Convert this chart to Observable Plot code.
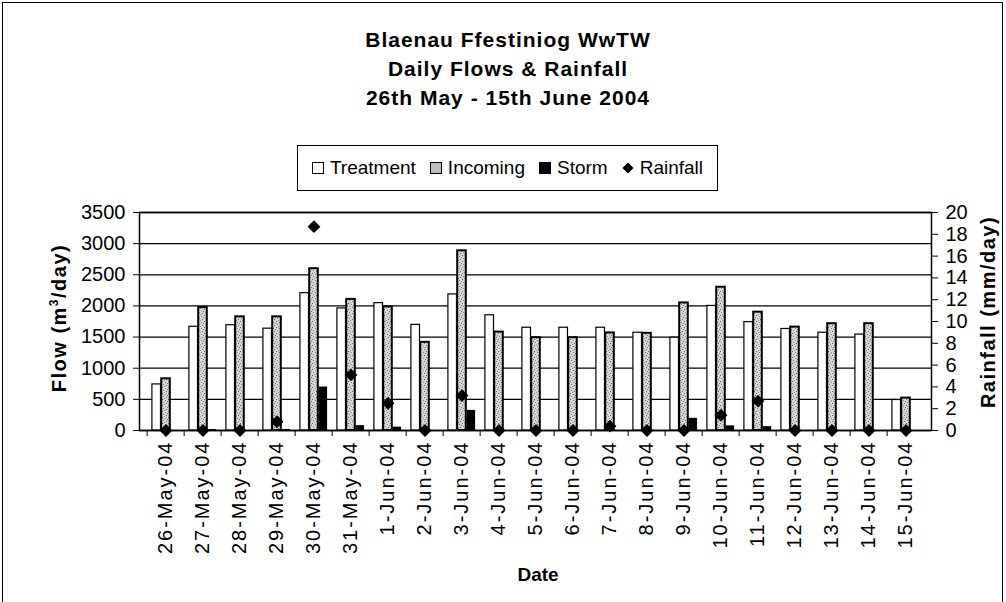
<!DOCTYPE html>
<html><head><meta charset="utf-8">
<script src="https://cdn.jsdelivr.net/npm/d3@7"></script>
<script src="https://cdn.jsdelivr.net/npm/@observablehq/plot@0.6"></script>
<style>
body{margin:0;background:#fff;font-family:"Liberation Sans",Arial,sans-serif;color:#000;}
#wrap{position:relative;width:1006px;height:602px;overflow:hidden;background:#fff;}
#frame{position:absolute;left:2px;top:2px;width:1001px;height:660px;border:1.5px solid #000;box-sizing:border-box;}
.title{position:absolute;left:0;width:1016px;text-align:center;font-weight:bold;font-size:21px;letter-spacing:1px;line-height:24px;}
#legend{position:absolute;left:297px;top:145px;width:421px;height:46px;border:1.5px solid #000;box-sizing:border-box;display:flex;align-items:center;justify-content:center;font-size:19px;white-space:nowrap;}
#legend .it{display:flex;align-items:center;margin:0 7px;}
#legend .sw{display:inline-block;width:12px;height:12px;box-sizing:border-box;border:1.3px solid #000;margin-right:6px;}
#legend svg{margin-right:6px}
.atitle{position:absolute;font-weight:bold;font-size:20px;letter-spacing:1.5px;white-space:nowrap;transform:translate(-50%,-50%) rotate(-90deg);}
#xt{position:absolute;left:538px;top:575px;transform:translate(-50%,-50%);font-weight:bold;font-size:19px;}
#chart{position:absolute;left:0;top:195px;}
</style></head>
<body>
<svg width="0" height="0" style="position:absolute"><defs>
<pattern id="stip" width="6" height="6" patternUnits="userSpaceOnUse">
<rect width="6" height="6" fill="#d6d6d6"/>
<rect x="0" y="0" width="1" height="1" fill="#666"/>
<rect x="3" y="1" width="1" height="1" fill="#888"/>
<rect x="5" y="2" width="1" height="1" fill="#777"/>
<rect x="1" y="3" width="1" height="1" fill="#888"/>
<rect x="4" y="4" width="1" height="1" fill="#666"/>
<rect x="2" y="5" width="1" height="1" fill="#999"/>
</pattern></defs></svg>
<div id="wrap">
<div id="frame"></div>
<div class="title" style="top:28px">Blaenau Ffestiniog WwTW</div>
<div class="title" style="top:57px">Daily Flows &amp; Rainfall</div>
<div class="title" style="top:86px">26th May - 15th June 2004</div>
<div id="legend"></div>
<div class="atitle" style="left:59px;top:318px">Flow (m<sup style="font-size:12px">3</sup>/day)</div>
<div class="atitle" style="left:988px;top:312px">Rainfall (mm/day)</div>
<div id="xt">Date</div>
<div id="chart"></div>
</div>
<script>
const dates = ["26-May-04","27-May-04","28-May-04","29-May-04","30-May-04","31-May-04","1-Jun-04","2-Jun-04","3-Jun-04","4-Jun-04","5-Jun-04","6-Jun-04","7-Jun-04","8-Jun-04","9-Jun-04","10-Jun-04","11-Jun-04","12-Jun-04","13-Jun-04","14-Jun-04","15-Jun-04"];
const treatment = [740,1665,1690,1635,2205,1960,2045,1696,2185,1850,1650,1650,1650,1570,1490,2000,1740,1630,1570,1540,490];
const incoming  = [830,1972,1825,1825,2598,2105,1985,1415,2885,1580,1490,1490,1567,1560,2048,2300,1900,1660,1715,1715,520];
const storm     = [0,15,0,15,698,78,54,0,322,0,0,0,0,0,195,75,62,0,0,0,0];
const rainfall  = [0,0,0,0.8,18.7,5.1,2.5,0,3.2,0,0,0,0.4,0,0,1.4,2.7,0,0,0,0];
const flowTicks = [0,500,1000,1500,2000,2500,3000,3500];
const rainTicks = [0,2,4,6,8,10,12,14,16,18,20];
const seriesNames = ["Treatment","Incoming","Storm","Rainfall"];

const W=1006, ML=139, MR=75, H=407, MT=17, MB=172;
const bw=(W-ML-MR)/dates.length;
const barW=9.3, gap=(bw-3*barW)/2;
const k = 3500/20;
const rows = dates.map((d,i)=>({date:d, treatment:treatment[i], incoming:incoming[i], storm:storm[i], rain:rainfall[i]}));

const chart = Plot.plot({
  width:W, height:H, marginLeft:ML, marginRight:MR, marginTop:MT, marginBottom:MB,
  style:{fontFamily:"'Liberation Sans', Arial, sans-serif", fontSize:"20px", color:"#000", background:"transparent", overflow:"visible"},
  x:{domain:dates, padding:0, label:null},
  y:{domain:[0,3500], label:null},
  marks:[
    Plot.ruleY(flowTicks, {stroke:"#000", strokeWidth:1.3}),
    Plot.barY(rows, {x:"date", y:"treatment", fill:"#fff", stroke:"#000", strokeWidth:1.2, insetLeft:gap, insetRight:bw-gap-barW}),
    Plot.barY(rows, {x:"date", y:"incoming", fill:"url(#stip)", stroke:"#000", strokeWidth:2, insetLeft:gap+barW, insetRight:gap+barW}),
    Plot.barY(rows, {x:"date", y:"storm", fill:"#000", insetLeft:gap+2*barW, insetRight:gap}),
    Plot.frame({stroke:"#000", strokeWidth:1.5}),
    Plot.dot(rows, {x:"date", y:d=>d.rain*k, symbol:"diamond2", r:5.8, fill:"#000", stroke:"none"}),
    Plot.axisY({ticks:flowTicks, tickFormat:d=>String(d), tickSize:6, tickPadding:8, anchor:"left", label:null}),
    Plot.axisY({ticks:rainTicks.map(r=>r*k), tickFormat:d=>String(Math.round(d/k)), anchor:"right", tickSize:6, tickPadding:8, label:null}),
    Plot.axisX({tickRotate:-90, tickSize:0, tickPadding:10, label:null, fontSize:20}),
    Plot.axisX({tickSize:6, tickFormat:()=>"", dx:-bw/2, label:null})
  ]
});
document.getElementById("chart").appendChild(chart);
d3.select(chart).selectAll("g[aria-label='x-axis tick label'] text").style("letter-spacing","2px");

// legend
const leg = d3.select("#legend");
const sw = [
  {name:seriesNames[0], html:'<span class="sw" style="background:#fff"></span>'},
  {name:seriesNames[1], html:'<span class="sw" style="background:#bdbdbd"></span>'},
  {name:seriesNames[2], html:'<span class="sw" style="background:#000"></span>'},
  {name:seriesNames[3], html:'<svg width="12" height="12"><path d="M6 0.5L11.5 6L6 11.5L0.5 6Z" fill="#000"/></svg>'}
];
sw.forEach(s=>{ leg.append("span").attr("class","it").html(s.html + "<span>"+s.name+"</span>"); });
</script>
</body></html>
